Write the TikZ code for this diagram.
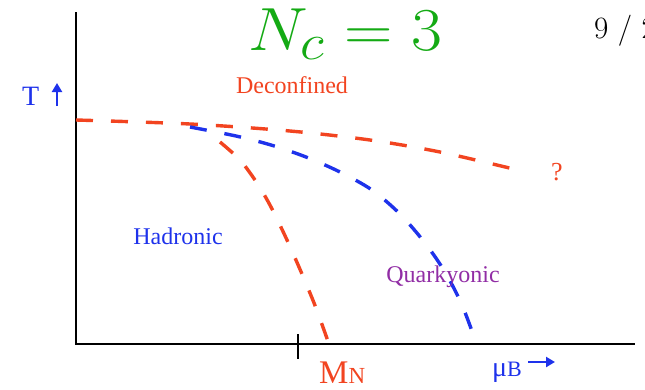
\documentclass[tikz,border=0pt]{standalone}
\usepackage{fontspec}
\usepackage{tikz}
\usetikzlibrary{arrows.meta, positioning, calc}
\newfontfamily\lblfont{Liberation Serif}
\definecolor{phred}   {RGB}{242,  68,  32}
\definecolor{phblue}  {RGB}{ 30,  50, 235}
\definecolor{phpurple}{RGB}{145,  45, 165}
\definecolor{phgreen} {RGB}{ 20, 170,  20}
\tikzset{
	phaseline/.style={line width=3.4pt, dash pattern=on 17pt off 18pt},
	lbl/.style={font=\lblfont\fontsize{24}{28}\selectfont, inner sep=0pt},
	axisarrow/.style={line width=2.6pt, -{Triangle[length=9pt,width=10pt]}}
}

\begin{document}
\begin{tikzpicture}[x=1pt,y=-1pt]
				\useasboundingbox (0,0) rectangle (645,389);
				% axes
				\coordinate (O) at (76,344);
				\coordinate (Ttop) at (76,12);
				\coordinate (Mend) at (635,344);
				\draw[line width=2.6pt] (Ttop)--(O)--(Mend);
				\coordinate (tickA) at (298,334);
				\coordinate (tickB) at (298,359);
				\draw[line width=2pt] (tickA)--(tickB);
				% phase boundaries
				\draw[phaseline,phred] plot[smooth] coordinates {(76,120) (190,124) (290,131) (370,140) (440,152) (522,171)};
				\draw[phaseline,phblue] plot[smooth] coordinates {(190,127) (236,136) (271,145) (306,157) (340,172) (372,190) (400,214) (425,243) (445,272) (462,305) (477,345)};
				\draw[phaseline,phred] plot[smooth] coordinates {(220,142) (240,160) (257,183) (271,207) (287,240) (302,274) (316,308) (330,347)};
				% labels
				\node[lbl,phred] (deconf) at (292,85) {Deconfined};
				\node[lbl,phblue] (hadr) at (178,236) {Hadronic};
				\node[lbl,phpurple] (quark) at (443,277) {Quarkyonic};
				\node[lbl,phred,font=\lblfont\fontsize{26}{28}\selectfont] (qmark) at (557,172) {?};
				\node[lbl,phblue,font=\lblfont\fontsize{28}{30}\selectfont,anchor=base west] (Tlab) at (22,105) {T};
				\coordinate (TarrS) at (57,106);
				\coordinate (TarrE) at (57,83);
				\draw[axisarrow,phblue] (TarrS)--(TarrE);
				\node[lbl,phred,anchor=base west] (MN) at (319,383) {{\fontsize{33}{34}\selectfont M}{\fontsize{23}{24}\selectfont N}};
				\node[lbl,phblue,anchor=base west] (muB) at (492,376) {{\fontsize{28}{28}\selectfont μ}{\fontsize{22}{24}\selectfont B}};
				\coordinate (MarrS) at (528,362);
				\coordinate (MarrE) at (555,362);
				\draw[axisarrow,phblue] (MarrS)--(MarrE);
				\node[phgreen,inner sep=0pt,anchor=base west] (Nc) at (248,50) {\scalebox{2.7}[2.45]{\Huge $N_c=3$}};
				\node[anchor=west,inner sep=0pt] (page) at (594,31) {\scalebox{1.25}{\Huge 9 / 20}};
			\end{tikzpicture}
\end{document}
